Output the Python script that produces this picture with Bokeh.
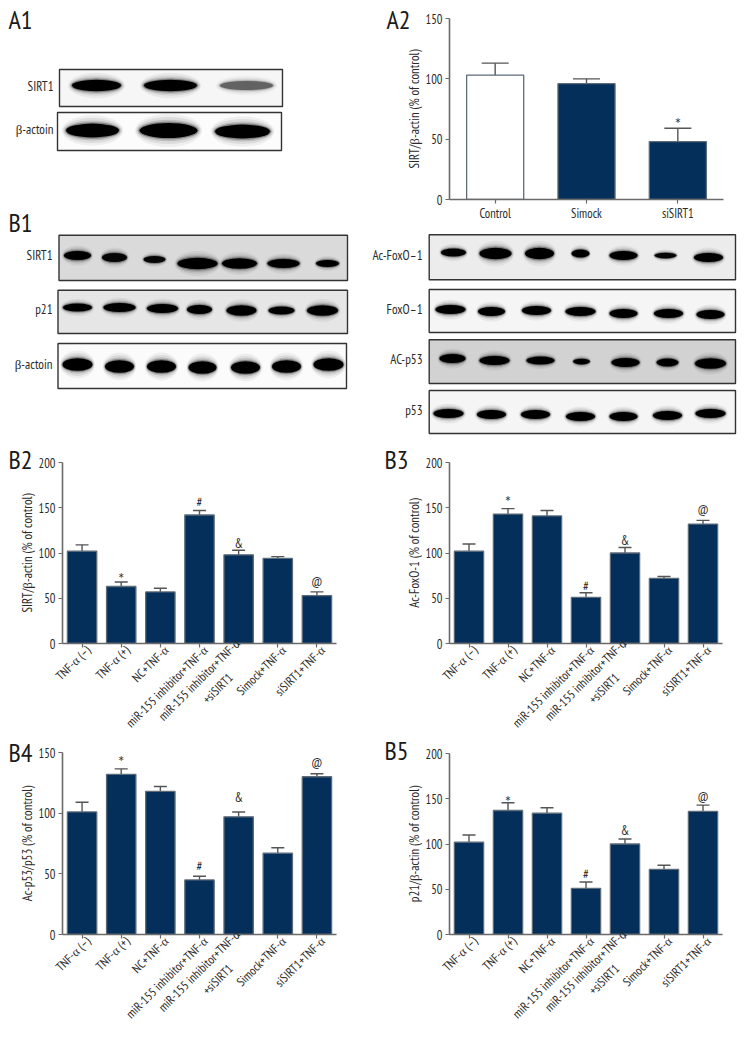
from math import pi
from bokeh.plotting import figure
from bokeh.layouts import column, row
from bokeh.models import ColumnDataSource, Range1d, Whisker, TeeHead, FixedTicker, LinearAxis
from bokeh.core.properties import value
from bokeh.embed import file_html
from bokeh.resources import INLINE

FONT = "PT Sans Narrow"
NAVY = "#042f5b"
EDGE = "#5d6b78"
AXIS = "#6a6a6a"
TXT = "#2b2b2b"

# ---------- bar chart data ----------
a2_groups = ["Control", "Simock", "siSIRT1"]
a2_values = [103, 96, 48]
a2_upper = [113, 100, 59]

groups = ["TNF-α (–)", "TNF-α (+)", "NC+TNF-α", "miR-155 inhibitor+TNF-α",
          "miR-155 inhibitor+TNF-α\n+siSIRT1" + "\u00a0" * 11, "Simock+TNF-α", "siSIRT1+TNF-α"]
marks = ["", "*", "", "#", "&", "", "@"]

b2_values = [102, 63, 57, 142, 98, 94, 53]
b2_upper = [109, 68, 61, 147, 103, 96, 57]
b2_mark_y = [0, 75.7, 0, 156, 111, 0, 68]

b3_values = [102, 143, 141, 51, 100, 72, 132]
b3_upper = [110, 149, 147, 56, 106, 74, 136]
b3_mark_y = [0, 161, 0, 63, 114, 0, 148.5]

b4_values = [101, 132, 118, 45, 97, 67, 130]
b4_upper = [109, 136.5, 122, 48, 101, 71.5, 132.5]
b4_mark_y = [0, 145.6, 0, 56, 113, 0, 141.7]

b5_values = [102, 137, 134, 51, 100, 72, 136]
b5_upper = [110, 145.5, 140, 58, 105.5, 76.5, 143]
b5_mark_y = [0, 150.6, 0, 66, 114.5, 0, 152]

# ---------- blot data: lane centre, band width, band height, band level, darkness ----------
a1_sirt1 = dict(x=[96, 170, 246], w=[49, 53, 53], h=[10, 10, 8], y=[85, 85, 85], d=[1, 1, .55])
a1_actin = dict(x=[92, 168, 242], w=[53, 58, 55], h=[12, 13, 12], y=[130, 130, 131], d=[1, 1, 1])
b1_sirt1 = dict(x=[77, 114, 154, 197, 239, 283, 327], w=[27, 25, 22, 40, 35, 32, 23],
                h=[8, 8, 6, 10, 9, 8, 6], y=[255, 257, 259, 263, 263, 263, 263], d=[1, .95, .95, 1, 1, 1, 1])
b1_p21 = dict(x=[77, 119, 162, 199, 241, 281, 322], w=[29, 32, 31, 25, 30, 26, 31],
              h=[7, 8, 8, 8, 9, 7, 9], y=[307, 307, 308, 309, 310, 310, 310], d=[1, 1, 1, 1, 1, 1, 1])
b1_actin = dict(x=[77, 119, 161, 202, 245, 286, 328], w=[30, 29, 29, 28, 29, 29, 30],
                h=[11, 11, 11, 11, 11, 11, 11], y=[364, 366, 366, 367, 367, 366, 364], d=[1, 1, 1, 1, 1, 1, 1])
r_acfox = dict(x=[453, 495, 539, 580, 623, 665, 708], w=[25, 32, 29, 18, 28, 22, 29],
               h=[7, 10, 10, 7, 8, 5, 8], y=[252, 253, 253, 253, 255, 255, 257], d=[1, 1, 1, 1, 1, .95, 1])
r_foxo = dict(x=[450, 491, 536, 580, 623, 668, 710], w=[30, 27, 29, 30, 28, 29, 28],
              h=[8, 8, 8, 8, 8, 8, 8], y=[309, 311, 310, 311, 313, 313, 314], d=[1, 1, 1, 1, 1, 1, 1])
r_acp53 = dict(x=[452, 494, 540, 581, 625, 667, 710], w=[26, 30, 28, 17, 28, 22, 31],
               h=[8, 8, 7, 5, 8, 7, 9], y=[358, 360, 360, 361, 362, 362, 363], d=[1, 1, 1, 1, 1, 1, 1])
r_p53 = dict(x=[448, 491, 535, 580, 623, 667, 710], w=[30, 29, 29, 29, 28, 29, 30],
             h=[8, 8, 8, 8, 8, 8, 8], y=[413, 414, 414, 416, 416, 415, 413], d=[1, 1, 1, 1, 1, 1, 1])


def add_blot(p, left, right, top, bottom, bg, bands, name, label_x):
    p.quad(left=[left], right=[right], top=[top], bottom=[bottom], fill_color=bg,
           line_color="#333333", line_width=1.4)
    xs, ws, ys, ds = bands["x"], bands["w"], bands["y"], bands["d"]
    hs = [h * 1.15 for h in bands["h"]]
    for grow, wgrow, alpha in [(2.2, 1.16, .05), (1.8, 1.12, .08), (1.45, 1.08, .14), (1.2, 1.04, .3)]:
        p.ellipse(x=xs, y=ys, width=[w * wgrow for w in ws], height=[h * grow for h in hs],
                  fill_color="black", fill_alpha=[alpha * d for d in ds], line_color=None)
    p.ellipse(x=xs, y=ys, width=ws, height=hs, fill_color="black",
              fill_alpha=[d if d > .9 else d * .8 for d in ds], line_color=None)
    p.text(x=[label_x], y=[(top + bottom) / 2 - 2], text=[name], text_align="right", text_baseline="middle",
           text_font=value(FONT), text_font_size="13px", text_color=TXT)


def blot_fig(x0, x1, y0, y1, margin=(0, 0, 0, 0)):
    p = figure(width=x1 - x0, height=y1 - y0, x_range=Range1d(x0, x1), y_range=Range1d(y1, y0),
               toolbar_location=None, output_backend="svg", min_border=0, outline_line_color=None,
               frame_align=False, background_fill_color=None, border_fill_color=None, margin=margin)
    p.axis.visible = False
    p.grid.visible = False
    return p


def letter(p, text, x, y):
    p.text(x=[x], y=[y], text=[text], text_align="left", text_baseline="middle",
           text_font=value(FONT), text_font_size="26px", text_color="#1a1a1a")


def style_axis(ax):
    ax.axis_line_color = AXIS
    ax.axis_line_width = 1.6
    ax.major_tick_line_color = AXIS
    ax.major_tick_line_width = 1.2
    ax.major_tick_in = 0
    ax.major_tick_out = 4
    ax.minor_tick_line_color = None
    ax.major_label_text_font = FONT
    ax.major_label_text_font_size = "12.5px"
    ax.major_label_text_color = TXT


def chart(cats, vals, upper, ymax, yticks, ylabel, w, h, left, right, top, bottom, bar, cap,
          mk=None, mk_y=None, rotated=True, margin=(0, 0, 0, 0)):
    idx = list(range(len(cats)))
    src = ColumnDataSource(dict(i=idx, v=vals, u=upper,
                                col=["white" if c == "Control" else NAVY for c in cats]))
    p = figure(width=w, height=h, x_range=Range1d(-0.5, len(cats) - 0.5), y_range=Range1d(0, ymax),
               toolbar_location=None, output_backend="svg",
               min_border_left=left, min_border_right=right, min_border_top=top, min_border_bottom=bottom,
               outline_line_color=None, frame_align=False, border_fill_color=None,
               background_fill_color=None, margin=margin)
    p.grid.visible = False
    p.add_layout(Whisker(source=src, base="i", lower="v", upper="u", line_color="#555555", line_width=1.4,
                         upper_head=TeeHead(size=cap, line_color="#555555", line_width=1.4), lower_head=None))
    p.vbar(x="i", top="v", width=bar, bottom=0, source=src, fill_color="col", line_color=EDGE, line_width=1.3)

    xa, ya = p.xaxis[0], p.yaxis[0]
    style_axis(xa)
    style_axis(ya)
    xa.ticker = FixedTicker(ticks=idx)
    ya.ticker = FixedTicker(ticks=yticks)
    ya.major_label_standoff = 3
    ya.axis_label = ylabel
    ya.axis_label_text_font = FONT
    ya.axis_label_text_font_size = "13px"
    ya.axis_label_text_font_style = "normal"
    ya.axis_label_text_color = TXT
    ya.axis_label_standoff = 0

    if rotated:
        xa.major_label_overrides = {i: "" for i in idx}
        xa.major_label_standoff = 0
        shift = 0.14
        p.extra_x_ranges = {"names": Range1d(-0.5 - shift, len(cats) - 0.5 - shift)}
        names = LinearAxis(x_range_name="names", ticker=FixedTicker(ticks=idx),
                           major_label_overrides=dict(zip(idx, cats)))
        style_axis(names)
        names.axis_line_color = None
        names.major_tick_line_color = None
        names.major_tick_out = 0
        names.major_label_standoff = 0
        names.major_label_orientation = pi / 4
        p.add_layout(names, "below")
    else:
        xa.major_label_overrides = dict(zip(idx, cats))
        xa.major_label_standoff = 1

    if mk:
        keep = [i for i, m in enumerate(mk) if m and m != "*"]
        p.text(x=keep, y=[mk_y[i] for i in keep], text=[mk[i] for i in keep],
               text_align="center", text_baseline="middle", text_font=value(FONT), text_font_size="13px",
               text_color=TXT)
        stars = [i for i, m in enumerate(mk) if m == "*"]
        p.text(x=stars, y=[mk_y[i] for i in stars], text=["*"] * len(stars), text_align="center",
               text_baseline="middle", text_font=value("Lato"), text_font_size="15px", text_color=TXT,
               y_offset=3)
    return p


# ---------- row 1 ----------
fa1 = blot_fig(0, 410, 0, 245)
add_blot(fa1, 59, 282, 69, 106, "#f6f6f6", a1_sirt1, "SIRT1", 53)
add_blot(fa1, 57, 281, 112, 150, "#fcfcfc", a1_actin, "β-actoin", 53)
letter(fa1, "A1", 8, 19)
letter(fa1, "B1", 8, 222)
letter(fa1, "A2", 386, 19)

fa2 = chart(a2_groups, a2_values, a2_upper, 150, [0, 50, 100, 150], "SIRT/β-actin (% of control)",
            365, 232, 64, 27, 18, 33, 0.625, 27, ["", "", "*"], [0, 0, 65.5], rotated=False, margin=(0, 0, 0, -25))

# ---------- row 2 ----------
fb1 = blot_fig(0, 750, 232, 485, margin=(-13, 0, 0, 0))
add_blot(fb1, 58.5, 347, 234.7, 280, "#dadada", b1_sirt1, "SIRT1", 52)
add_blot(fb1, 57.5, 347, 289.7, 333, "#e6e6e6", b1_p21, "p21", 52)
add_blot(fb1, 57.5, 346, 343, 388, "#fbfbfb", b1_actin, "β-actoin", 52)
add_blot(fb1, 428.7, 735, 234.3, 279.3, "#ececec", r_acfox, "Ac-FoxO–1", 422)
add_blot(fb1, 428.7, 735, 289, 332, "#f5f5f5", r_foxo, "FoxO–1", 422)
add_blot(fb1, 428.7, 735, 339.3, 383, "#d2d2d2", r_acp53, "AC-p53", 422)
add_blot(fb1, 428.7, 735, 390, 433, "#f5f5f5", r_p53, "p53", 422)
letter(fb1, "B2", 8, 459)
letter(fb1, "B3", 384, 459)

# ---------- rows 3 and 4 ----------
t200 = [0, 50, 100, 150, 200]
t150 = [0, 50, 100, 150]

fb2 = chart(groups, b2_values, b2_upper, 200, t200, "SIRT/β-actin (% of control)",
            376, 315, 62, 40, 17, 117, 0.75, 13, marks, b2_mark_y)
fb3 = chart(groups, b3_values, b3_upper, 200, t200, "Ac-FoxO-1 (% of control)",
            374, 315, 73, 28, 17, 117, 0.75, 13, marks, b3_mark_y)
fb4 = chart(groups, b4_values, b4_upper, 150, t150, "Ac-p53/p53 (% of control)",
            376, 311, 62, 40, 19, 110, 0.75, 13, marks, b4_mark_y, margin=(0, 0, 0, -50))
fb5 = chart(groups, b5_values, b5_upper, 200, t200, "p21/β-actin (% of control)",
            374, 311, 73, 28, 20, 110, 0.75, 13, marks, b5_mark_y, margin=(0, 0, 0, -50))

s4 = blot_fig(0, 50, 733, 773)
letter(s4, "B4", 8, 752)
s5 = blot_fig(376, 426, 733, 773)
letter(s5, "B5", 384, 750)

page = column(row(fa1, fa2, spacing=0), fb1,
              row(fb2, fb3, spacing=0, margin=(-40, 0, 0, 0)),
              row(s4, fb4, s5, fb5, spacing=0, margin=(-27, 0, 0, 0)), spacing=0)
open("out.html", "w").write(file_html(page, INLINE))
